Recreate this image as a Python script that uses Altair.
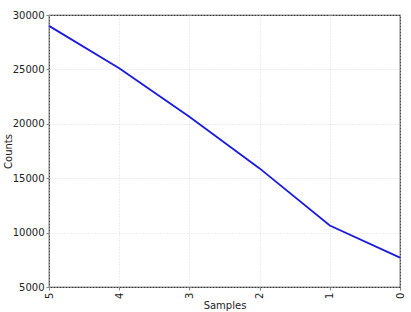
import altair as alt
import pandas as pd

samples = ["5", "4", "3", "2", "1", "0"]
counts = [29000, 25100, 20650, 15900, 10650, 7700]

df = pd.DataFrame({"Samples": samples, "Counts": counts})

chart = alt.Chart(df).mark_line(color="#1a1adf", strokeWidth=1.8).encode(
    x=alt.X("Samples:N", sort=samples,
            scale=alt.Scale(type="point", padding=0),
            axis=alt.Axis(labelAngle=-90, title="Samples", grid=True,
                          gridDash=[1, 2], gridColor="#dddddd",
                          domain=False, tickSize=3, tickColor="#888",
                          labelFont="DejaVu Sans", labelFontSize=10,
                          labelColor="#222", labelPadding=2,
                          titleFont="DejaVu Sans", titleFontSize=10,
                          titleFontWeight="normal", titleColor="#222",
                          titlePadding=2)),
    y=alt.Y("Counts:Q", scale=alt.Scale(domain=[5000, 30000], nice=False, zero=False),
            axis=alt.Axis(values=[5000, 10000, 15000, 20000, 25000, 30000],
                          format="d",
                          title="Counts", grid=True, gridDash=[1, 2],
                          gridColor="#dddddd", domain=False, tickSize=3,
                          tickColor="#888",
                          labelFont="DejaVu Sans", labelFontSize=10,
                          labelColor="#222", labelPadding=2,
                          titleFont="DejaVu Sans", titleFontSize=10,
                          titleFontWeight="normal", titleColor="#222",
                          titleBaseline="bottom",
                          titleX=-36, titleY=136)),
).properties(
    width=351, height=272,
    background="white",
    autosize=alt.AutoSizeParams(type="none"),
    padding={"left": 49, "top": 15, "right": 11, "bottom": 25},
).configure_view(stroke="#333", strokeWidth=1.2)

chart.save("out.html", embed_options={"renderer": "svg", "actions": False})
